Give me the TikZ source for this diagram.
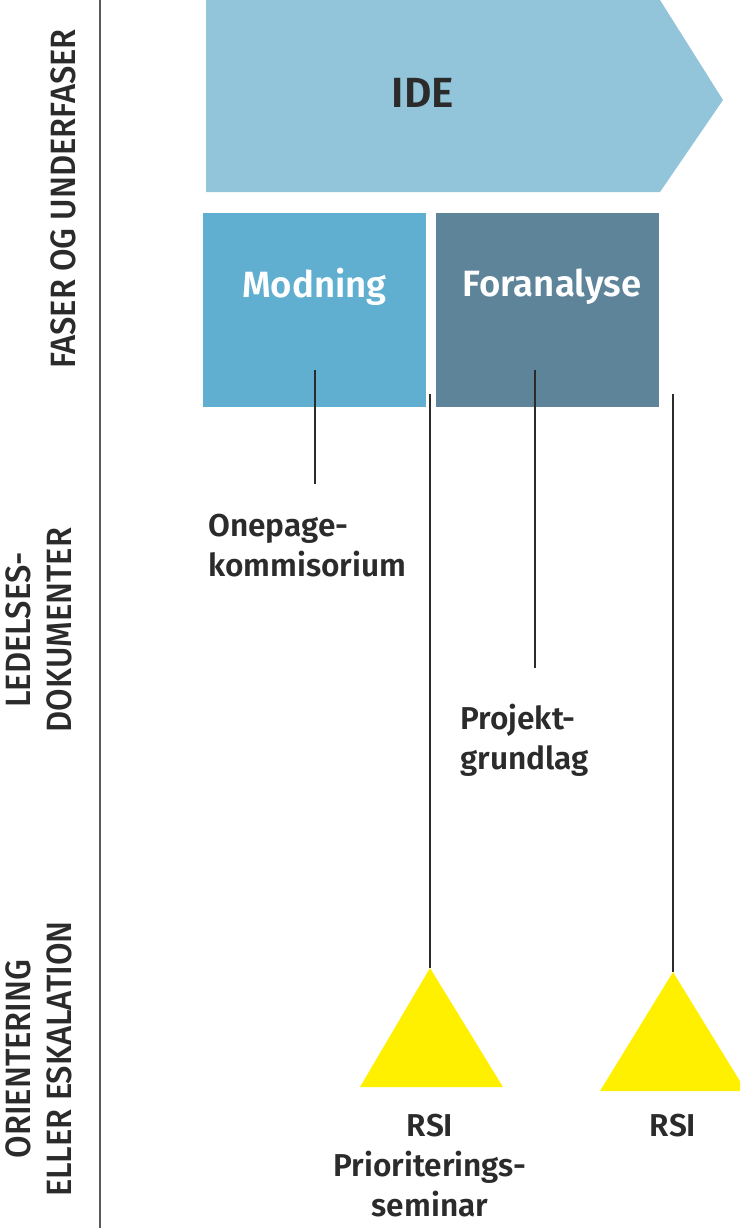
\documentclass[tikz,border=0pt]{standalone}
\usepackage{fontspec}
\setmainfont{Fira Sans}[BoldFont={Fira Sans SemiBold}]
\newfontfamily\sidefont{Fira Sans Medium}
\usetikzlibrary{positioning}

\definecolor{idefill}{HTML}{92C4DA}
\definecolor{modfill}{HTML}{61AFD0}
\definecolor{forfill}{HTML}{5E8499}
\definecolor{rsiyellow}{HTML}{FFF000}
\definecolor{inkgray}{HTML}{2B2B2B}
\definecolor{rulegray}{HTML}{5A5A5A}

\begin{document}
\begin{tikzpicture}[
    x=0.25mm, y=-0.25mm,
    sidelabel/.style={rotate=90, xscale=0.93, align=center, text=inkgray, inner sep=0pt, font=\sidefont\fontsize{25}{29}\selectfont},
    phasebox/.style={rectangle, minimum width=55.75mm, minimum height=48.5mm, inner sep=0pt},
    boxtext/.style={text=white, font=\bfseries\fontsize{26}{31}\selectfont},
    doctext/.style={text=inkgray, align=left, inner sep=0pt, font=\bfseries\fontsize{22.5}{28.5}\selectfont},
    rsitext/.style={text=inkgray, align=center, inner sep=0pt, font=\bfseries\fontsize{22.5}{28.5}\selectfont},
    milestone/.style={fill=rsiyellow},
    link/.style={draw=inkgray, line width=0.32mm}
]
    \clip (0,0) rectangle (740,1228);

    % side headings
    \draw[rulegray, line width=0.38mm] (100,0) -- (100,1228);
    \node[sidelabel] (faser) at (63,199) {FASER OG UNDERFASER};
    \node[sidelabel] (ledelse) at (39,630) {LEDELSES-\\DOKUMENTER};
    \node[sidelabel] (orient) at (39,1059) {ORIENTERING\\ELLER ESKALATION};

    % phase arrow and sub-phases
    \fill[idefill] (206,0) -- (660,0) -- (723,100) -- (660,192) -- (206,192) -- cycle;
    \node[text=inkgray, font=\bfseries\fontsize{30}{36}\selectfont] (ide) at (423,93) {IDE};

    \node[phasebox, fill=modfill] (modning) at (314.5,310) {};
    \node[phasebox, fill=forfill] (foranalyse) at (547.5,310) {};
    \node[boxtext] (modtext) at (314.5,287) {Modning};
    \node[boxtext] (fortext) at (552,287) {Foranalyse};

    % documents
    \node[doctext, anchor=north west] (onepage) at (208,514) {Onepage-\\kommisorium};
    \node[doctext, anchor=north west] (projekt) at (460,704) {Projekt-\\grundlag};

    % milestones
    \fill[milestone] (430,968) coordinate (rsiA) -- (503,1087) -- (360,1087) -- cycle;
    \fill[milestone] (673,972) coordinate (rsiB) -- (746,1091) -- (600,1091) -- cycle;
    \node[rsitext, anchor=north] (rsiAtext) at (430,1114) {RSI\\Prioriterings-\\seminar};
    \node[rsitext, anchor=north] (rsiBtext) at (673,1114) {RSI};

    % connectors
    \coordinate (modfoot) at (315,370);
    \coordinate (onetop) at (315,484);
    \coordinate (forfoot) at (535,370);
    \coordinate (projtop) at (535,668);
    \coordinate (gateA) at (430,394);
    \coordinate (gateB) at (673,394);
    \draw[link] (modfoot) -- (onetop);
    \draw[link] (forfoot) -- (projtop);
    \draw[link] (gateA) -- (rsiA);
    \draw[link] (gateB) -- (rsiB);
\end{tikzpicture}
\end{document}
